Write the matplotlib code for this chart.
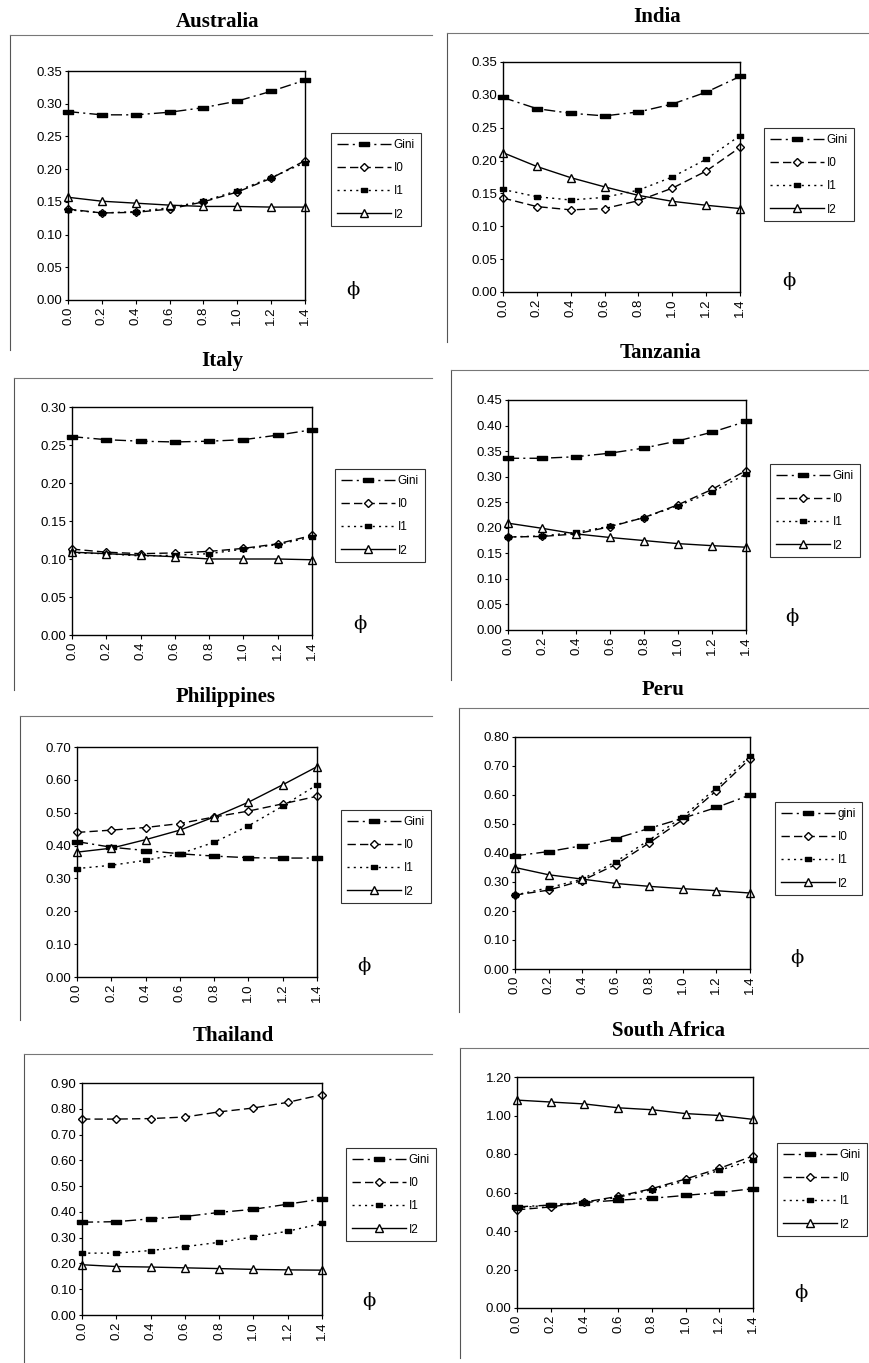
import numpy as np
import matplotlib
matplotlib.use("Agg")
import matplotlib.pyplot as plt
from matplotlib.lines import Line2D

W, H = 869, 1363

phi_labels = ["0.0", "0.2", "0.4", "0.6", "0.8", "1.0", "1.2", "1.4"]

countries = ["Australia", "India", "Italy", "Tanzania", "Philippines", "Peru", "Thailand", "South Africa"]

australia_gini = [0.288, 0.283, 0.283, 0.287, 0.294, 0.304, 0.319, 0.336]
australia_i0 = [0.139, 0.133, 0.134, 0.139, 0.150, 0.165, 0.186, 0.213]
australia_i1 = [0.138, 0.133, 0.135, 0.141, 0.151, 0.167, 0.187, 0.210]
australia_i2 = [0.157, 0.151, 0.148, 0.145, 0.143, 0.143, 0.142, 0.142]

india_gini = [0.296, 0.279, 0.272, 0.268, 0.274, 0.286, 0.304, 0.328]
india_i0 = [0.143, 0.130, 0.125, 0.127, 0.139, 0.158, 0.184, 0.220]
india_i1 = [0.156, 0.145, 0.140, 0.144, 0.155, 0.175, 0.202, 0.238]
india_i2 = [0.212, 0.191, 0.174, 0.160, 0.147, 0.138, 0.132, 0.127]

italy_gini = [0.261, 0.257, 0.255, 0.254, 0.255, 0.257, 0.263, 0.270]
italy_i0 = [0.113, 0.109, 0.107, 0.108, 0.110, 0.114, 0.120, 0.131]
italy_i1 = [0.108, 0.107, 0.104, 0.105, 0.107, 0.113, 0.119, 0.129]
italy_i2 = [0.109, 0.107, 0.105, 0.103, 0.100, 0.100, 0.100, 0.099]

tanzania_gini = [0.336, 0.336, 0.339, 0.346, 0.356, 0.370, 0.387, 0.408]
tanzania_i0 = [0.182, 0.183, 0.188, 0.202, 0.220, 0.245, 0.275, 0.312]
tanzania_i1 = [0.182, 0.184, 0.191, 0.203, 0.220, 0.243, 0.270, 0.305]
tanzania_i2 = [0.209, 0.199, 0.188, 0.181, 0.175, 0.169, 0.165, 0.162]

philippines_gini = [0.412, 0.395, 0.385, 0.375, 0.368, 0.363, 0.362, 0.362]
philippines_i0 = [0.440, 0.447, 0.455, 0.467, 0.487, 0.505, 0.527, 0.550]
philippines_i1 = [0.330, 0.340, 0.355, 0.375, 0.410, 0.460, 0.520, 0.585]
philippines_i2 = [0.380, 0.392, 0.418, 0.447, 0.487, 0.532, 0.585, 0.640]

peru_gini = [0.390, 0.405, 0.425, 0.450, 0.485, 0.520, 0.557, 0.600]
peru_i0 = [0.255, 0.272, 0.305, 0.360, 0.435, 0.515, 0.615, 0.725]
peru_i1 = [0.255, 0.280, 0.310, 0.370, 0.445, 0.525, 0.625, 0.735]
peru_i2 = [0.350, 0.325, 0.310, 0.295, 0.285, 0.277, 0.270, 0.262]

thailand_gini = [0.360, 0.362, 0.373, 0.382, 0.398, 0.410, 0.430, 0.450]
thailand_i0 = [0.760, 0.760, 0.762, 0.768, 0.788, 0.803, 0.825, 0.855]
thailand_i1 = [0.240, 0.240, 0.250, 0.265, 0.282, 0.303, 0.325, 0.355]
thailand_i2 = [0.195, 0.188, 0.186, 0.183, 0.180, 0.177, 0.175, 0.174]

safrica_gini = [0.525, 0.535, 0.548, 0.560, 0.570, 0.585, 0.600, 0.620]
safrica_i0 = [0.510, 0.525, 0.550, 0.580, 0.620, 0.670, 0.725, 0.790]
safrica_i1 = [0.520, 0.535, 0.550, 0.575, 0.615, 0.660, 0.715, 0.770]
safrica_i2 = [1.080, 1.070, 1.060, 1.040, 1.030, 1.010, 1.000, 0.980]

series = {
    "Australia": (australia_gini, australia_i0, australia_i1, australia_i2),
    "India": (india_gini, india_i0, india_i1, india_i2),
    "Italy": (italy_gini, italy_i0, italy_i1, italy_i2),
    "Tanzania": (tanzania_gini, tanzania_i0, tanzania_i1, tanzania_i2),
    "Philippines": (philippines_gini, philippines_i0, philippines_i1, philippines_i2),
    "Peru": (peru_gini, peru_i0, peru_i1, peru_i2),
    "Thailand": (thailand_gini, thailand_i0, thailand_i1, thailand_i2),
    "South Africa": (safrica_gini, safrica_i0, safrica_i1, safrica_i2),
}

yticks = {
    "Australia": [0.00, 0.05, 0.10, 0.15, 0.20, 0.25, 0.30, 0.35],
    "India": [0.00, 0.05, 0.10, 0.15, 0.20, 0.25, 0.30, 0.35],
    "Italy": [0.00, 0.05, 0.10, 0.15, 0.20, 0.25, 0.30],
    "Tanzania": [0.00, 0.05, 0.10, 0.15, 0.20, 0.25, 0.30, 0.35, 0.40, 0.45],
    "Philippines": [0.00, 0.10, 0.20, 0.30, 0.40, 0.50, 0.60, 0.70],
    "Peru": [0.00, 0.10, 0.20, 0.30, 0.40, 0.50, 0.60, 0.70, 0.80],
    "Thailand": [0.00, 0.10, 0.20, 0.30, 0.40, 0.50, 0.60, 0.70, 0.80, 0.90],
    "South Africa": [0.00, 0.20, 0.40, 0.60, 0.80, 1.00, 1.20],
}

legend_labels = {c: ["Gini", "I0", "I1", "I2"] for c in countries}
legend_labels["Peru"] = ["gini", "I0", "I1", "I2"]

layout = {
    "Australia":    dict(ax=(68, 71, 305, 300),  title=(218, 22),  leg=(331, 133), phi=(353, 290),  frame=(10, 35, 432, 350)),
    "India":        dict(ax=(503, 62, 740, 292), title=(657, 17),  leg=(764, 128), phi=(789, 281),  frame=(447, 33, 869, 342)),
    "Italy":        dict(ax=(72, 407, 312, 635), title=(222, 361), leg=(335, 469), phi=(360, 624),  frame=(14, 378, 432, 690)),
    "Tanzania":     dict(ax=(508, 400, 746, 630), title=(660, 353), leg=(770, 464), phi=(792, 617),  frame=(451, 370, 869, 680)),
    "Philippines":  dict(ax=(77, 747, 317, 977), title=(226, 697), leg=(341, 810), phi=(364, 966),  frame=(20, 716, 432, 1020)),
    "Peru":         dict(ax=(515, 737, 750, 969), title=(663, 690), leg=(775, 802), phi=(797, 958),  frame=(459, 708, 869, 1012)),
    "Thailand":     dict(ax=(82, 1083, 322, 1315), title=(233, 1036), leg=(346, 1148), phi=(369, 1301), frame=(24, 1054, 432, 1363)),
    "South Africa": dict(ax=(517, 1077, 753, 1308), title=(668, 1031), leg=(777, 1143), phi=(801, 1293), frame=(460, 1048, 869, 1358)),
}

rect_marker = [(-1.6, -0.7), (1.6, -0.7), (1.6, 0.7), (-1.6, 0.7), (-1.6, -0.7)]

styles = [
    dict(linestyle=(0, (8, 3, 1.5, 3)), marker=rect_marker, markersize=7, markerfacecolor="black", markeredgecolor="black"),
    dict(linestyle=(0, (6, 3)), marker="D", markersize=4.5, markerfacecolor="white", markeredgecolor="black"),
    dict(linestyle=(0, (1.5, 3)), marker=rect_marker, markersize=5, markerfacecolor="black", markeredgecolor="black"),
    dict(linestyle="-", marker="^", markersize=6, markerfacecolor="white", markeredgecolor="black"),
]

fig = plt.figure(figsize=(W / 100, H / 100), dpi=100)
fig.patch.set_facecolor("white")

def fx(px):
    return px / W

def fy(py):
    return 1 - py / H

x = np.arange(len(phi_labels))

for c in countries:
    L = layout[c]
    x0, y0, x1, y1 = L["ax"]
    f0, g0, f1, g1 = L["frame"]
    fig.add_artist(Line2D([fx(f0), fx(f0)], [fy(g0), fy(g1)], color="#555555", lw=0.8))
    fig.add_artist(Line2D([fx(f0), fx(f1)], [fy(g0), fy(g0)], color="#777777", lw=0.8))

    ax = fig.add_axes([fx(x0), fy(y1), (x1 - x0) / W, (y1 - y0) / H])
    vals = series[c]
    labs = legend_labels[c]
    handles = []
    for v, st, lab in zip(vals, styles, labs):
        h, = ax.plot(x, v, color="black", linewidth=1.0, clip_on=False, label=lab, **st)
        handles.append(h)
    yt = yticks[c]
    ax.set_ylim(yt[0], yt[-1])
    ax.set_xlim(0, len(phi_labels) - 1)
    ax.set_yticks(yt)
    ax.set_yticklabels([f"{t:.2f}" for t in yt], fontsize=9.5, family="Liberation Sans")
    ax.set_xticks(x)
    ax.set_xticklabels(phi_labels, rotation=90, fontsize=9.5, family="Liberation Sans")
    ax.tick_params(axis="both", direction="out", length=3, width=0.8, pad=2)
    ax.tick_params(axis="y", length=2)
    for s in ax.spines.values():
        s.set_linewidth(1.0)
        s.set_color("black")

    fig.text(fx(L["title"][0]), fy(L["title"][1]), c, ha="center", va="center",
             fontsize=15, fontweight="bold", family="Liberation Serif")

    leg = ax.legend(handles=handles, loc="upper left",
                    bbox_to_anchor=(fx(L["leg"][0]), fy(L["leg"][1])),
                    bbox_transform=fig.transFigure,
                    prop={"family": "Liberation Sans", "size": 8.5},
                    frameon=True, fancybox=False, edgecolor="black",
                    handlelength=4.6, handletextpad=0.2, borderpad=0.5,
                    labelspacing=0.95, borderaxespad=0)
    leg.get_frame().set_linewidth(0.8)

    fig.text(fx(L["phi"][0]), fy(L["phi"][1]), "ϕ", ha="center", va="center",
             fontsize=14, family="DejaVu Serif")

fig.savefig("out.png", dpi=100, facecolor="white")
